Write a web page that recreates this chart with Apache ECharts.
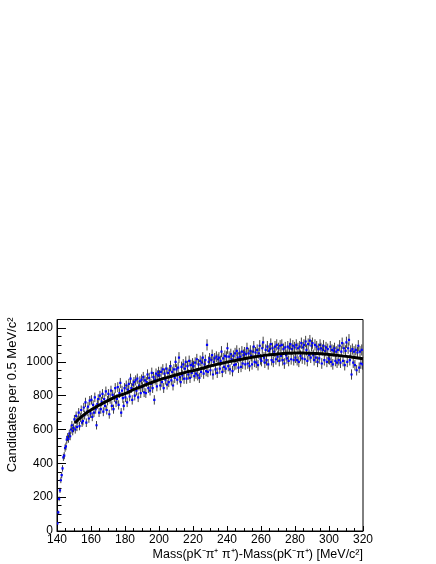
<!DOCTYPE html>
<html><head><meta charset="utf-8">
<script src="https://cdn.jsdelivr.net/npm/echarts@6/dist/echarts.min.js"></script>
<style>html,body{margin:0;padding:0;background:#fff}#c{width:436px;height:564px}</style>
</head><body><div id="c"></div>
<script>
// Histogram: candidates per 0.5 MeV/c^2 bin, first bin starts at 140
const binStart = 140;
const binWidth = 0.5;
const counts = [
  45, 110, 190, 240, 300, 330, 370, 435, 445, 490,
  500, 540, 555, 545, 575, 560, 600, 625, 590, 610,
  660, 600, 680, 615, 655, 700, 620, 670, 715, 640,
  650, 730, 685, 760, 640, 705, 735, 665, 770, 695,
  775, 675, 745, 700, 790, 720, 625, 750, 780, 700,
  800, 720, 765, 810, 705, 780, 740, 825, 715, 770,
  810, 690, 780, 830, 740, 805, 720, 790, 845, 760,
  780, 850, 745, 815, 875, 700, 830, 785, 740, 845,
  790, 860, 760, 835, 870, 795, 900, 845, 775, 865,
  880, 800, 890, 830, 900, 790, 860, 885, 815, 895,
  850, 910, 820, 890, 815, 880, 925, 845, 905, 830,
  870, 935, 845, 910, 775, 895, 930, 855, 920, 940,
  920, 860, 940, 880, 955, 845, 930, 895, 960, 865,
  935, 880, 950, 975, 890, 940, 860, 955, 905, 1000,
  955, 895, 965, 1025, 910, 880, 970, 920, 985, 900,
  960, 1000, 900, 975, 925, 1005, 905, 980, 935, 990,
  975, 915, 995, 930, 1015, 920, 985, 905, 1005, 940,
  995, 1025, 930, 985, 1010, 945, 1100, 940, 1000, 1020,
  950, 1010, 1040, 925, 1000, 1020, 955, 1030, 935, 1015,
  1025, 960, 1005, 1060, 940, 1020, 970, 1035, 960, 1030,
  1080, 975, 1030, 955, 1045, 1015, 945, 1035, 980, 1050,
  985, 1065, 1025, 965, 1050, 1030, 970, 1060, 990, 1040,
  1055, 985, 1045, 1080, 990, 1050, 975, 1065, 1035, 985,
  1060, 1090, 1000, 1055, 995, 1070, 980, 1050, 1095, 1015,
  1005, 1080, 1115, 1025, 995, 1070, 1010, 1090, 985, 1065,
  1075, 1105, 1010, 1080, 1000, 1060, 1090, 1015, 1100, 1030,
  1080, 1005, 1095, 1035, 1100, 1010, 1075, 990, 1085, 1040,
  1020, 1090, 1005, 1080, 1105, 1015, 1075, 1095, 1010, 1085,
  1025, 1100, 1010, 1080, 1000, 1090, 1035, 1110, 1020, 1085,
  1100, 1015, 1120, 1070, 1005, 1105, 1040, 1125, 1025, 1095,
  1110, 1040, 1010, 1100, 1025, 1090, 1000, 1075, 1020, 1100,
  1080, 990, 1070, 1095, 1010, 1065, 1085, 1000, 1075, 1020,
  1015, 1090, 1000, 1070, 985, 1065, 1080, 1005, 1060, 995,
  1070, 1010, 1095, 995, 1060, 1110, 1005, 1080, 980, 1065,
  1115, 1000, 1080, 1130, 1010, 1065, 925, 1075, 995, 1060,
  980, 1070, 950, 1055, 1095, 965, 1060, 990, 1070, 985
];
// Fit curve
const fitX = [150.5,155,160,165,170,175,180,185,190,195,200,205,210,215,220,225,230,235,240,245,250,255,260,265,270,275,280,285,290,295,300,305,310,315,320];
const fitY = [638,680,715,745,770,795,812,835,855,875,893,908,922,936,948,960,975,987,998,1008,1018,1027,1035,1041,1046,1050,1052,1052,1050,1047,1043,1038,1032,1025,1018];
// Axis ticks
const xTickLabels = [140,160,180,200,220,240,260,280,300,320];
const yTickLabels = [0,200,400,600,800,1000,1200];
const yMinorTicks = [50,100,150,250,300,350,450,500,550,650,700,750,850,900,950,1050,1100,1150,1250];

const FONT = "'Liberation Sans', Arial, Helvetica, sans-serif";
const histData = counts.map((n, i) => [binStart + binWidth * (i + 0.5), n, Math.sqrt(n)]);
const fitData = fitX.map((x, i) => [x, fitY[i]]);

const chart = echarts.init(document.getElementById('c'), null, {renderer: 'canvas'});
const gridTop = 319.5;
chart.setOption({
  animation: false,
  backgroundColor: '#fff',
  grid: {left: 57, right: 73, top: gridTop, bottom: 33, show: true, borderColor: '#000', borderWidth: 1, backgroundColor: 'transparent'},
  xAxis: {
    type: 'value', min: 140, max: 320, interval: 20,
    axisLine: {show: true, lineStyle: {color: '#000', width: 1}},
    axisTick: {show: true, inside: true, length: 5, lineStyle: {color: '#000'}},
    minorTick: {show: true, splitNumber: 4, length: 3, lineStyle: {color: '#000'}},
    splitLine: {show: false},
    axisLabel: {color: '#000', fontSize: 12, fontFamily: FONT, margin: 3, customValues: xTickLabels, formatter: v => String(v)}
  },
  yAxis: [{
    type: 'value', min: 0, max: 1250, interval: 200,
    axisLine: {show: true, lineStyle: {color: '#000', width: 1}},
    axisTick: {show: true, inside: true, length: 9, customValues: yTickLabels, lineStyle: {color: '#000'}},
    splitLine: {show: false},
    axisLabel: {color: '#000', fontSize: 12, fontFamily: FONT, margin: 4, customValues: yTickLabels, formatter: v => String(v)}
  }, {
    type: 'value', min: 0, max: 1250, position: 'left', offset: 0,
    axisLine: {show: false},
    axisTick: {show: true, inside: true, length: 4.5, customValues: yMinorTicks, lineStyle: {color: '#000'}},
    splitLine: {show: false},
    axisLabel: {show: false}
  }],
  series: [{
    type: 'custom',
    xAxisIndex: 0, yAxisIndex: 0,
    data: histData,
    clip: true,
    renderItem: function (params, api) {
      const x = api.value(0), y = api.value(1), e = api.value(2);
      const top = api.coord([x, y + e]);
      const bot = api.coord([x, y - e]);
      const c = api.coord([x, y]);
      return {
        type: 'group',
        children: [
          {type: 'line', shape: {x1: top[0], y1: top[1], x2: bot[0], y2: bot[1]}, style: {stroke: '#2a2a2a', lineWidth: 0.9}},
          {type: 'rect', shape: {x: c[0] - 1.1, y: c[1] - 1.1, width: 2.2, height: 2.2}, style: {fill: '#0000ff'}}
        ]
      };
    }
  }, {
    type: 'line', xAxisIndex: 0, yAxisIndex: 0,
    data: fitData, smooth: true, showSymbol: false, symbol: 'none',
    lineStyle: {color: '#000', width: 3}, z: 5
  }],
  graphic: [{
    type: 'text', rotation: Math.PI / 2, originX: 0, originY: 0,
    style: {text: 'Candidates per 0.5 MeV/c²', font: '13px ' + FONT, fill: '#000', align: 'right', verticalAlign: 'top'},
    position: [6, gridTop - 2]
  }, {
    type: 'text',
    style: {text: 'Mass(pK⁻π⁺ π⁺)-Mass(pK⁻π⁺) [MeV/c²]', font: '12.5px ' + FONT, fill: '#000', align: 'right', verticalAlign: 'bottom'},
    position: [363, 561]
  }]
});
</script></body></html>
